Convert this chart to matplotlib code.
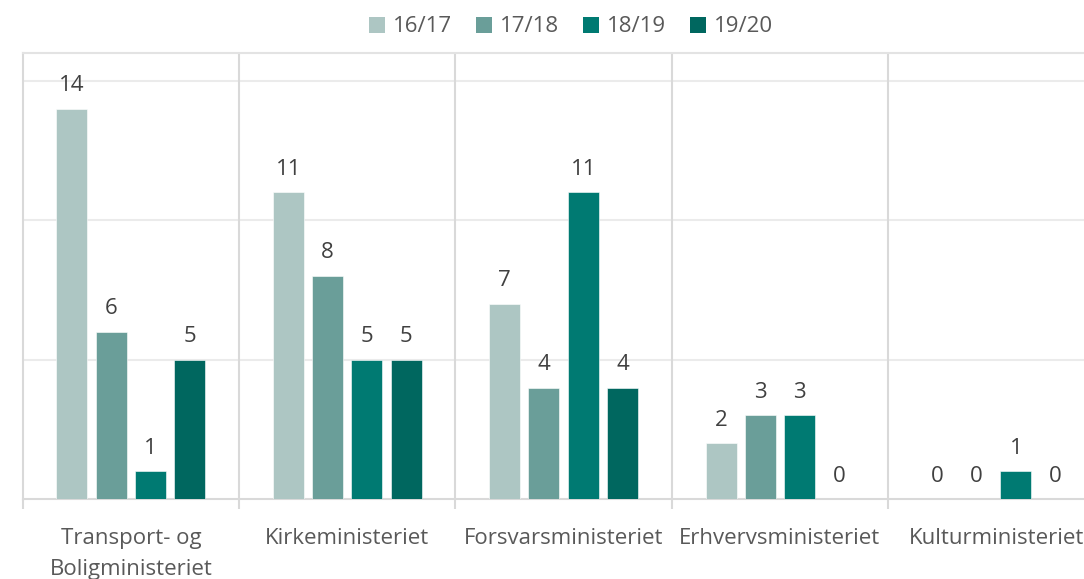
import numpy as np
import matplotlib
matplotlib.use("Agg")
import matplotlib.pyplot as plt
from matplotlib.patches import Patch

# data
ministerier = ["Transport- og\nBoligministeriet", "Kirkeministeriet", "Forsvarsministeriet",
               "Erhvervsministeriet", "Kulturministeriet"]
aar = ["16/17", "17/18", "18/19", "19/20"]
v_1617 = [14, 11, 7, 2, 0]
v_1718 = [6, 8, 4, 3, 0]
v_1819 = [1, 5, 11, 3, 1]
v_1920 = [5, 5, 4, 0, 0]
serier = [v_1617, v_1718, v_1819, v_1920]

farver = ["#ADC6C3", "#6A9E99", "#007A72", "#00675F"]
tekst = "#595959"

plt.rcParams['font.family'] = ['Open Sans', 'DejaVu Sans']

fig = plt.figure(figsize=(10.84, 5.79), dpi=100, facecolor='white')
W, H = 1084, 579
left, right, top, bottom = 22.7, 1104.5, 53, 499
ax = fig.add_axes([left / W, 1 - bottom / H, (right - left) / W, (bottom - top) / H])

x = np.arange(len(ministerier))
pitch = 0.1815
bredde = 0.1435

for i, (navn, vals) in enumerate(zip(aar, serier)):
    pos = x + (i - 1.5) * pitch
    ax.bar(pos, vals, bredde, color=farver[i], edgecolor='white', linewidth=0.4,
           label=navn, zorder=3)
    for p, v in zip(pos, vals):
        ax.annotate(str(v), (p, v), xytext=(0, 9), textcoords='offset points',
                    ha='center', va='bottom', fontsize=16, color='#404040')

ax.set_xlim(-0.5, 4.5)
ax.set_ylim(0, 16)

# gitterlinjer
for yv in [5, 10, 15]:
    ax.axhline(yv, color='#EBEBEB', linewidth=1.5, zorder=1)
for xv in np.arange(0.5, 4.5, 1):
    ax.axvline(xv, color='#D9D9D9', linewidth=1.5, zorder=1)

for s in ax.spines.values():
    s.set_color('#D9D9D9')
    s.set_linewidth(1.5)
ax.spines['top'].set_color('#E3E3E3')

ax.set_yticks([])
ax.set_xticks(x)
ax.set_xticklabels(ministerier, fontsize=16, color=tekst, linespacing=1.6)
ax.tick_params(axis='x', which='major', length=0, pad=21)
ax.set_xticks(np.arange(-0.5, 5, 1), minor=True)
ax.tick_params(axis='x', which='minor', length=7, width=1.5, color='#D9D9D9')

handles = [Patch(facecolor=c, label=n) for c, n in zip(farver, aar)]
fig.legend(handles=handles, loc='center', bbox_to_anchor=(571 / W, 1 - 27 / H), ncol=4,
           frameon=False, fontsize=16, labelcolor=tekst, handlelength=0.7, handleheight=0.7,
           handletextpad=0.35, columnspacing=1.1)

fig.savefig("out.png", dpi=100, facecolor='white')
